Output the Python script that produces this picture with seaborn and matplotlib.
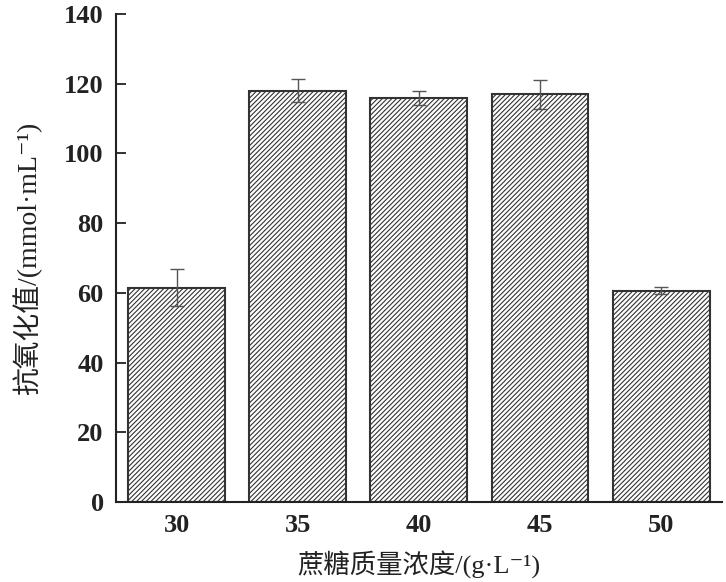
import matplotlib
matplotlib.use('Agg')
import matplotlib.pyplot as plt
import seaborn as sns
import pandas as pd

# sucrose concentration (g/L) vs antioxidant value
conc = ['30', '35', '40', '45', '50']
value = [61.5, 118.0, 116.0, 117.0, 60.6]
err = [5.3, 3.3, 2.0, 4.2, 1.0]

sns.set_style('ticks')
plt.rcParams['font.family'] = ['Liberation Serif', 'Noto Sans CJK SC', 'DejaVu Sans']
plt.rcParams['hatch.color'] = '#3c3c3c'
plt.rcParams['hatch.linewidth'] = 0.8

df = pd.DataFrame({'conc': conc, 'value': value})

fig = plt.figure(figsize=(7.26, 5.82), dpi=100)
ax = fig.add_axes([0.16, 0.1375, 0.834, 0.8385])
sns.barplot(data=df, x='conc', y='value', color='white', edgecolor='#333333',
            linewidth=1.5, width=0.8, errorbar=None, hatch='///////', ax=ax)
ax.errorbar(range(len(conc)), value, yerr=err, fmt='none', ecolor='#555555',
            elinewidth=1.0, capsize=5, capthick=1.0)

ax.set_ylim(0, 140)
ax.set_xlim(-0.5, 4.5)
ax.set_yticks(range(0, 141, 20))
ax.tick_params(direction='in', length=7, width=1.3, labelsize=19, pad=9,
               color='#222222')
for lab in ax.get_xticklabels() + ax.get_yticklabels():
    lab.set_fontweight('bold')
    lab.set_color('#222222')
sns.despine(ax=ax)
for s in ['left', 'bottom']:
    ax.spines[s].set_linewidth(1.5)
    ax.spines[s].set_color('#222222')
ax.set_xlabel('蔗糖质量浓度/(g·L⁻¹)', fontsize=19, labelpad=10, color='#222222')
ax.set_ylabel('抗氧化值/(mmol·mL⁻¹)', fontsize=20, labelpad=16, color='#222222')

plt.savefig('out.png', dpi=100)
